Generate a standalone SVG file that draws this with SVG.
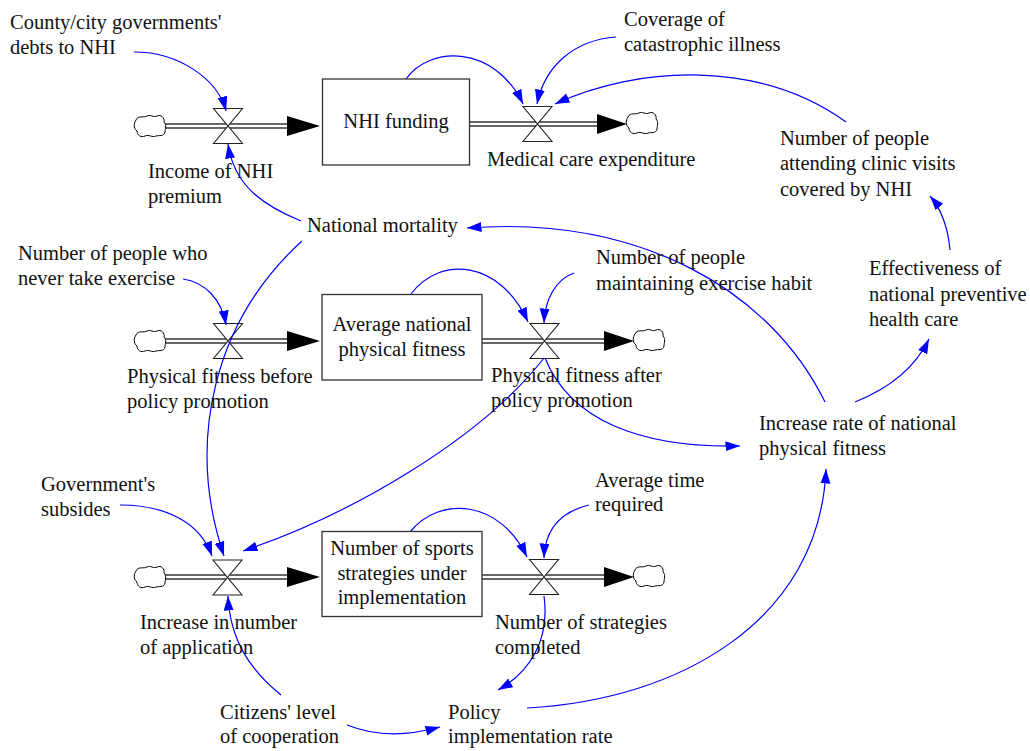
<svg xmlns="http://www.w3.org/2000/svg" width="1030" height="751" viewBox="0 0 1030 751" font-family="'Liberation Serif', Tinos, 'Times New Roman', Times, 'DejaVu Serif', serif">
<style>
text{font-family:'Liberation Serif', Tinos, 'Times New Roman', Times, 'DejaVu Serif', serif;font-size:20.5px;fill:#111}
.c{text-anchor:middle}
.box{fill:#fff;stroke:#333;stroke-width:1.3}
.po{stroke:#333;stroke-width:5.6;fill:none}
.pi{stroke:#fff;stroke-width:2.4;fill:none}
.ph{fill:#000}
.valve{fill:#fff;stroke:#222;stroke-width:1.1}
.cloud{fill:#fff;stroke:#000;stroke-width:1}
.lk{fill:none;stroke:#0000ff;stroke-width:1.2;marker-end:url(#ah)}
</style>
<defs>
<marker id="ah" markerUnits="userSpaceOnUse" markerWidth="16" markerHeight="11" refX="14.5" refY="5" orient="auto">
<path d="M0,0 L14.5,5 L0,10 Z" fill="#0000ff"/>
</marker>
<path id="valve" d="M-14.5,-17.5 H14.5 L-14.5,17.5 H14.5 Z"/>
<path id="cloud" d="M-14,-6 C-12,-11 -6,-8 -3,-10 C0,-12 4,-8 7,-10 C11,-12 15,-8 14,-4 C17,-1 15,3 15,6 C14,11 9,9 6,10 C2,12 -1,8 -5,10 C-9,12 -13,9 -13,5 C-17,2 -16,-3 -14,-6 Z"/>
</defs>
<rect width="1030" height="751" fill="#fff"/>

<g id="flows">
<g id="flow-income">
<line class="po" x1="165" y1="126" x2="290" y2="126"/><line class="pi" x1="165" y1="126" x2="290" y2="126"/>
<polygon class="ph" points="287,116 320,126 287,136"/>
<use href="#cloud" class="cloud" transform="translate(150,126)"/>
<use href="#valve" class="valve" transform="translate(228,126)"/>
</g>
<g id="flow-medical">
<line class="po" x1="470" y1="124" x2="600" y2="124"/><line class="pi" x1="470" y1="124" x2="600" y2="124"/>
<polygon class="ph" points="597,114 627,124 597,134"/>
<use href="#cloud" class="cloud" transform="translate(642,123)"/>
<use href="#valve" class="valve" transform="translate(537.5,124)"/>
</g>
<g id="flow-before">
<line class="po" x1="165" y1="341" x2="290" y2="341"/><line class="pi" x1="165" y1="341" x2="290" y2="341"/>
<polygon class="ph" points="287,331 320,341 287,351"/>
<use href="#cloud" class="cloud" transform="translate(150,341)"/>
<use href="#valve" class="valve" transform="translate(228,341)"/>
</g>
<g id="flow-after">
<line class="po" x1="482" y1="341" x2="607" y2="341"/><line class="pi" x1="482" y1="341" x2="607" y2="341"/>
<polygon class="ph" points="604,331 634,341 604,351"/>
<use href="#cloud" class="cloud" transform="translate(649,340)"/>
<use href="#valve" class="valve" transform="translate(544.5,341)"/>
</g>
<g id="flow-application">
<line class="po" x1="165" y1="577" x2="290" y2="577"/><line class="pi" x1="165" y1="577" x2="290" y2="577"/>
<polygon class="ph" points="287,567 320,577 287,587"/>
<use href="#cloud" class="cloud" transform="translate(150,577)"/>
<use href="#valve" class="valve" transform="translate(227.5,577.5)"/>
</g>
<g id="flow-completed">
<line class="po" x1="482" y1="577" x2="607" y2="577"/><line class="pi" x1="482" y1="577" x2="607" y2="577"/>
<polygon class="ph" points="604,567 634,577 604,587"/>
<use href="#cloud" class="cloud" transform="translate(649,576)"/>
<use href="#valve" class="valve" transform="translate(544,577)"/>
</g>
</g>

<g id="connectors">
<path class="lk" d="M134,52 C180,52 218,80 226,111"/>
<path class="lk" d="M301,221 C262,205 234,185 228,144"/>
<path class="lk" d="M406,79 C430,45 495,45 523,104"/>
<path class="lk" d="M616,37 C575,40 545,65 537,104"/>
<path class="lk" d="M846,122 C760,60 640,65 555,104"/>
<path class="lk" d="M950,250 C948,228 942,210 930,196"/>
<path class="lk" d="M855,402 C890,388 915,368 929,339"/>
<path class="lk" d="M825,402 C770,290 640,215 467,228"/>
<path class="lk" d="M302,241 C215,320 185,440 224,556"/>
<path class="lk" d="M120,505 C165,505 200,522 212,556"/>
<path class="lk" d="M544,358 C480,440 350,515 243,551"/>
<path class="lk" d="M545,358 C570,420 640,448 740,446"/>
<path class="lk" d="M411,294 C440,255 500,260 528,322"/>
<path class="lk" d="M574,273 C555,280 545,300 544,323"/>
<path class="lk" d="M183,279 C205,282 222,300 226,325"/>
<path class="lk" d="M410,532 C440,495 500,500 527,557"/>
<path class="lk" d="M589,505 C560,512 545,530 544,558"/>
<path class="lk" d="M544,596 C550,640 530,672 498,690"/>
<path class="lk" d="M527,708 C680,700 820,620 826,469"/>
<path class="lk" d="M281,695 C250,670 230,640 228,596"/>
<path class="lk" d="M347,725 C380,738 410,735 440,727"/>
</g>

<g id="nhi-funding"><rect class="box" x="322.5" y="79" width="147" height="86"/><text class="c" x="396" y="128">NHI funding</text></g>
<g id="avg-fitness"><rect class="box" x="322" y="294.5" width="160" height="85.5"/><text class="c" x="402" y="331">Average national</text><text class="c" x="402" y="355.5">physical fitness</text></g>
<g id="sports-strategies"><rect class="box" x="322" y="531.5" width="160" height="85"/><text class="c" x="402" y="555">Number of sports</text><text class="c" x="402" y="580">strategies under</text><text class="c" x="402" y="604">implementation</text></g>

<g id="county-debts"><text x="10" y="29">County/city governments'</text><text x="10" y="54">debts to NHI</text></g>
<g id="coverage"><text x="624" y="26">Coverage of</text><text x="624" y="51">catastrophic illness</text></g>
<g id="income-premium"><text x="148" y="178">Income of NHI</text><text x="148" y="203">premium</text></g>
<g id="medical-expenditure"><text x="487" y="166">Medical care expenditure</text></g>
<g id="clinic-visits"><text x="780" y="145">Number of people</text><text x="780" y="170">attending clinic visits</text><text x="780" y="196">covered by NHI</text></g>
<g id="national-mortality"><text x="307" y="232">National mortality</text></g>
<g id="never-exercise"><text x="18" y="260">Number of people who</text><text x="18" y="285">never take exercise</text></g>
<g id="maintaining-exercise"><text x="596" y="264">Number of people</text><text x="596" y="290">maintaining exercise habit</text></g>
<g id="effectiveness"><text x="869" y="275">Effectiveness of</text><text x="869" y="300.5">national preventive</text><text x="869" y="326">health care</text></g>
<g id="fitness-before"><text x="127" y="383">Physical fitness before</text><text x="127" y="408">policy promotion</text></g>
<g id="fitness-after"><text x="491" y="382">Physical fitness after</text><text x="491" y="407">policy promotion</text></g>
<g id="increase-rate"><text x="759" y="430">Increase rate of national</text><text x="759" y="455">physical fitness</text></g>
<g id="subsides"><text x="41" y="491">Government's</text><text x="41" y="516">subsides</text></g>
<g id="average-time"><text x="595" y="487">Average time</text><text x="595" y="511">required</text></g>
<g id="increase-application"><text x="140" y="629">Increase in number</text><text x="140" y="654">of application</text></g>
<g id="strategies-completed"><text x="495" y="629">Number of strategies</text><text x="495" y="654">completed</text></g>
<g id="citizens-cooperation"><text x="220" y="719">Citizens' level</text><text x="220" y="743">of cooperation</text></g>
<g id="policy-rate"><text x="448" y="719">Policy</text><text x="448" y="743">implementation rate</text></g>
</svg>
